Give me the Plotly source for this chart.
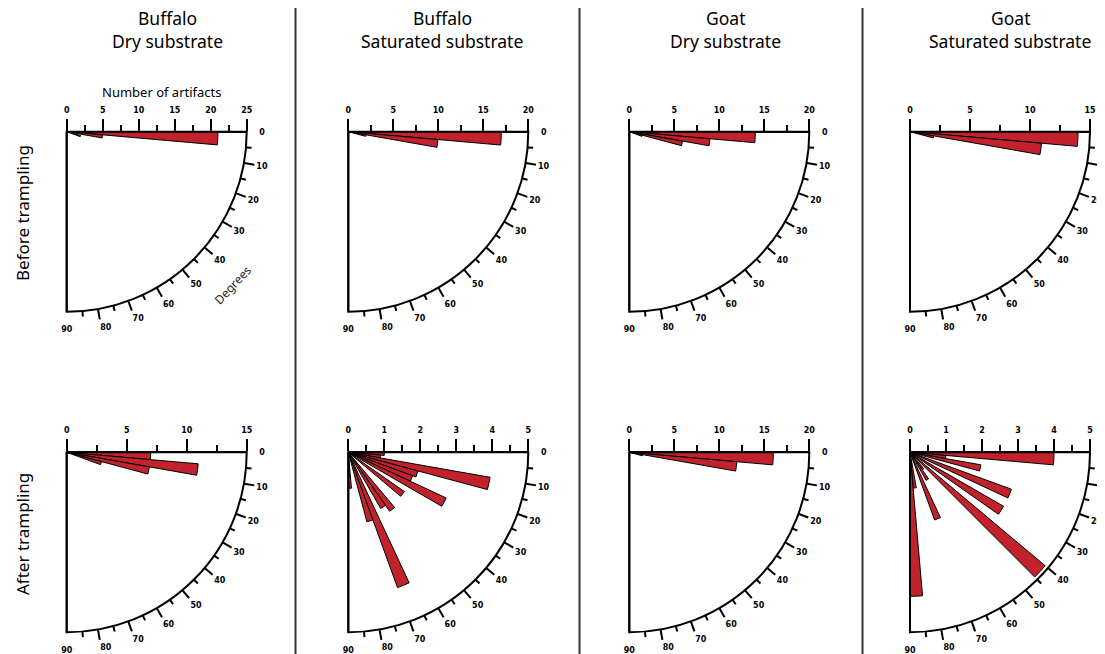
import plotly.graph_objects as go

# ---------------- data ----------------
col_animals = ["Buffalo", "Buffalo", "Goat", "Goat"]
col_substrates = ["Dry substrate", "Saturated substrate", "Dry substrate", "Saturated substrate"]
row_labels = ["Before trampling", "After trampling"]
radial_axis_title = "Number of artifacts"
angular_axis_title = "Degrees"

# orientation bins (degrees, bin centres) and counts per panel
buffalo_dry_before_theta = [2.5, 7.5, 12.5, 17.5]
buffalo_dry_before_r = [21, 5, 1, 2]
buffalo_sat_before_theta = [2.5, 7.5, 12.5]
buffalo_sat_before_r = [17, 10, 2]
goat_dry_before_theta = [2.5, 7.5, 12.5, 17.5]
goat_dry_before_r = [14, 9, 6, 1.5]
goat_sat_before_theta = [2.5, 7.5, 12.5]
goat_sat_before_r = [14, 11, 2]

buffalo_dry_after_theta = [2.5, 7.5, 12.5, 17.5]
buffalo_dry_after_r = [7, 11, 7, 3]
buffalo_sat_after_theta = [2.5, 7.5, 12.5, 17.5, 22.5, 27.5, 37.5, 52.5, 57.5, 67.5, 72.5, 87.5]
buffalo_sat_after_r = [1, 0.9, 4, 2, 1.9, 3, 1.9, 2, 1.8, 4, 2, 1]
goat_dry_after_theta = [2.5, 7.5, 12.5]
goat_dry_after_r = [16, 12, 1.5]
goat_sat_after_theta = [2.5, 7.5, 12.5, 22.5, 32.5, 42.5, 52.5, 57.5, 67.5, 82.5, 87.5]
goat_sat_after_r = [4, 1, 2, 3, 3, 4.9, 0.6, 0.9, 2, 1, 4]

# radial axis maximum and major step per panel (row-major)
radial_max = [25, 20, 20, 15, 15, 5, 20, 5]
radial_step = [5, 5, 5, 5, 5, 1, 5, 1]

bin_width = 5
angle_major = [0, 10, 20, 30, 40, 50, 60, 70, 80, 90]
angle_major_inner = [10, 20, 30, 40, 50, 60, 70, 80]
angle_minor = [5, 15, 25, 35, 45, 55, 65, 75, 85]

panels_theta = [buffalo_dry_before_theta, buffalo_sat_before_theta, goat_dry_before_theta, goat_sat_before_theta,
                buffalo_dry_after_theta, buffalo_sat_after_theta, goat_dry_after_theta, goat_sat_after_theta]
panels_r = [buffalo_dry_before_r, buffalo_sat_before_r, goat_dry_before_r, goat_sat_before_r,
            buffalo_dry_after_r, buffalo_sat_after_r, goat_dry_after_r, goat_sat_after_r]

# ---------------- layout constants ----------------
OFF = 8                      # page body margin in the browser
W, H = 1105 - OFF, 654 - OFF
centers_x = [66.7, 348.3, 629.3, 910.0]
centers_y = [131.7, 452.3]
RAD = 180
RED = "#C1222B"
TICKFONT = dict(family="DejaVu Sans", size=8, color="black", weight="bold")
TEXTFONT = "Noto Sans"
separators_x = [295.5, 579.5, 862.5]


def px(x):
    return (x - OFF) / W


def py(y):
    return 1 - (y - OFF) / H


def fmt(v):
    return str(int(v)) if float(v).is_integer() else str(v)


def key(i):
    return "polar" if i == 1 else f"polar{i}"


fig = go.Figure()
layout_extra = {}
NO = dict(showticklabels=False, showgrid=False)

for k in range(8):
    row, col = divmod(k, 4)
    cx, cy = centers_x[col], centers_y[row]
    dom = dict(x=[px(cx), px(cx + RAD)], y=[py(cy + RAD), py(cy)])
    rmax = radial_max[k]
    step = radial_step[k]
    majors = [i * step for i in range(int(round(rmax / step)) + 1)]

    ids = [k + 1, k + 9, k + 17]

    fig.add_trace(go.Barpolar(
        r=panels_r[k], theta=panels_theta[k], width=[bin_width] * len(panels_r[k]),
        subplot=key(ids[0]),
        marker=dict(color=RED, line=dict(color="black", width=1)),
        showlegend=False, hoverinfo="skip"))
    for extra in ids[1:]:
        fig.add_trace(go.Scatterpolar(r=[], theta=[], mode="lines", subplot=key(extra),
                                      showlegend=False, hoverinfo="skip"))

    base = dict(domain=dom, sector=[-90, 0], bgcolor="rgba(0,0,0,0)")
    ang = dict(direction="clockwise", rotation=0, tickmode="array")

    # main polar: arc and angular labels
    layout_extra[key(ids[0])] = dict(
        **base,
        radialaxis=dict(range=[0, rmax], angle=0, ticks="", showline=False, **NO),
        angularaxis=dict(**ang, tickvals=angle_major, ticktext=[str(a) for a in angle_major],
                         ticks="outside", ticklen=10, tickcolor="rgba(0,0,0,0)",
                         showline=True, linecolor="black", linewidth=2, showgrid=False,
                         tickfont=TICKFONT),
    )
    # major angular ticks + 90 degree boundary line
    layout_extra[key(ids[1])] = dict(
        **base,
        radialaxis=dict(range=[0, rmax], angle=-90, showline=True, linecolor="black",
                        linewidth=2, ticks="", **NO),
        angularaxis=dict(**ang, tickvals=angle_major_inner, ticks="outside", ticklen=10,
                         tickwidth=1.5, tickcolor="black", showline=False, **NO),
    )
    # minor angular ticks
    layout_extra[key(ids[2])] = dict(
        **base,
        radialaxis=dict(range=[0, rmax], angle=0, ticks="", showline=False, **NO),
        angularaxis=dict(**ang, tickvals=angle_minor, ticks="outside", ticklen=5,
                         tickwidth=1.5, tickcolor="black", showline=False, **NO),
    )

    # radial scale ("Number of artifacts") as a cartesian axis lying on the 0-degree line
    xa = "x" if k == 0 else f"x{k + 1}"
    ya = "y" if k == 0 else f"y{k + 1}"
    fig.add_trace(go.Scatter(x=[], y=[], xaxis=xa, yaxis=ya, showlegend=False, hoverinfo="skip"))
    layout_extra["xaxis" if k == 0 else f"xaxis{k + 1}"] = dict(
        domain=[px(cx), px(cx + RAD)], range=[0, rmax], anchor=ya, side="top",
        tickmode="array", tickvals=majors, ticktext=[fmt(m) for m in majors],
        ticks="outside", ticklen=12, tickwidth=1.5, tickcolor="black",
        minor=dict(dtick=step / 2, tick0=0, ticks="outside", ticklen=6, tickwidth=1.5, tickcolor="black"),
        showline=True, linecolor="black", linewidth=2, showgrid=False, zeroline=False,
        tickfont=TICKFONT, tickangle=0, ticklabelstandoff=3, fixedrange=True, automargin=False)
    layout_extra["yaxis" if k == 0 else f"yaxis{k + 1}"] = dict(
        domain=[py(cy + 1) - 0.01, py(cy + 1)], range=[0, 1], anchor=xa, visible=False,
        fixedrange=True, automargin=False)

annotations = []
title_cx = [167, 442, 725, 1010]
for j in range(4):
    annotations.append(dict(text=col_animals[j], x=px(title_cx[j]), y=py(18), xref="paper", yref="paper",
                            showarrow=False, font=dict(family=TEXTFONT, size=17.5, color="black"),
                            xanchor="center", yanchor="middle"))
    annotations.append(dict(text=col_substrates[j], x=px(title_cx[j]), y=py(41), xref="paper", yref="paper",
                            showarrow=False, font=dict(family=TEXTFONT, size=17.5, color="black"),
                            xanchor="center", yanchor="middle"))
row_label_y = [213, 534]
for i in range(2):
    annotations.append(dict(text=row_labels[i], x=px(22), y=py(row_label_y[i]), xref="paper", yref="paper",
                            showarrow=False, textangle=-90, font=dict(family=TEXTFONT, size=17, color="black"),
                            xanchor="center", yanchor="middle"))
annotations.append(dict(text=radial_axis_title, x=px(162), y=py(92), xref="paper", yref="paper",
                        showarrow=False, font=dict(family=TEXTFONT, size=13, color="black"),
                        xanchor="center", yanchor="middle"))
annotations.append(dict(text=angular_axis_title, x=px(232), y=py(285), xref="paper", yref="paper",
                        showarrow=False, textangle=-47, font=dict(family=TEXTFONT, size=12, color="#222"),
                        xanchor="center", yanchor="middle"))

shapes = [dict(type="line", xref="paper", yref="paper", x0=px(sx), x1=px(sx), y0=0, y1=1,
               line=dict(color="#333", width=2)) for sx in separators_x]

fig.update_layout(
    width=W, height=H, margin=dict(l=0, r=0, t=0, b=0, autoexpand=False),
    paper_bgcolor="white", plot_bgcolor="rgba(0,0,0,0)", showlegend=False,
    annotations=annotations, shapes=shapes, **layout_extra)

fig.write_html("out.html")
